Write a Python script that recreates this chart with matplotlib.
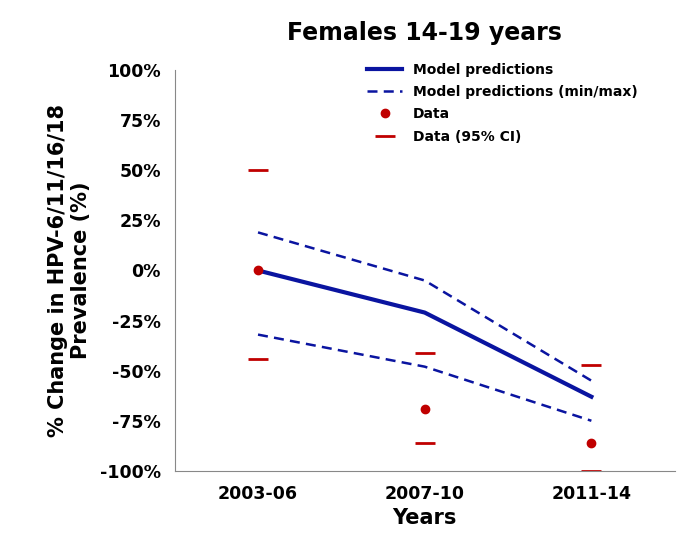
import matplotlib
matplotlib.use("Agg")
import matplotlib.pyplot as plt
from matplotlib.ticker import FuncFormatter

periods = ["2003-06", "2007-10", "2011-14"]
model = [0, -21, -63]
model_max = [19, -5, -55]
model_min = [-32, -48, -75]
data = [0, -69, -86]
ci_upper = [50, -41, -47]
ci_lower = [-44, -86, -100]

plt.rcParams['font.family'] = ['DejaVu Sans']
plt.rcParams['font.weight'] = 'bold'
plt.rcParams['axes.titleweight'] = 'bold'
plt.rcParams['axes.labelweight'] = 'bold'
fig = plt.figure(figsize=(6.85, 5.52), dpi=100)
ax = fig.add_axes([0.255, 0.147, 0.73, 0.726])
x = list(range(len(periods)))
blue = '#0a14a0'
red = '#c00000'
ax.plot(x, model, color=blue, lw=3, label='Model predictions')
ax.plot(x, model_max, color=blue, lw=1.8, ls=(0, (4, 2.5)), label='Model predictions (min/max)')
ax.plot(x, model_min, color=blue, lw=1.8, ls=(0, (4, 2.5)))
ax.plot(x, data, 'o', color=red, ms=6, ls='none', label='Data')
ax.plot(x, ci_upper, '_', color=red, ms=14, mew=2, ls='none', label='Data (95% CI)')
ax.plot(x, ci_lower, '_', color=red, ms=14, mew=2, ls='none')
ax.set_xlim(-0.5, 2.5)
ax.set_ylim(-100, 100)
ax.set_yticks(range(-100, 101, 25))
ax.yaxis.set_major_formatter(FuncFormatter(lambda v, p: f"{int(v)}%"))
ax.set_xticks(x)
ax.set_xticklabels(periods)
ax.tick_params(labelsize=12.5, length=0, pad=10)
for s in ['top', 'right']:
    ax.spines[s].set_visible(False)
ax.spines['left'].set_color('#888888')
ax.spines['bottom'].set_color('#888888')
ax.set_title('Females 14-19 years', fontsize=17, pad=22, fontweight='bold')
ax.set_xlabel('Years', fontsize=15, labelpad=4, fontweight='bold')
ax.set_ylabel('% Change in HPV-6/11/16/18\nPrevalence (%)', fontsize=15, labelpad=6, fontweight='bold')
ax.legend(loc='upper left', frameon=False, bbox_to_anchor=(0.36, 1.05),
          handlelength=2.5, labelspacing=0.6, prop={'weight': 'bold', 'size': 10})
fig.savefig('out.png', dpi=100)
